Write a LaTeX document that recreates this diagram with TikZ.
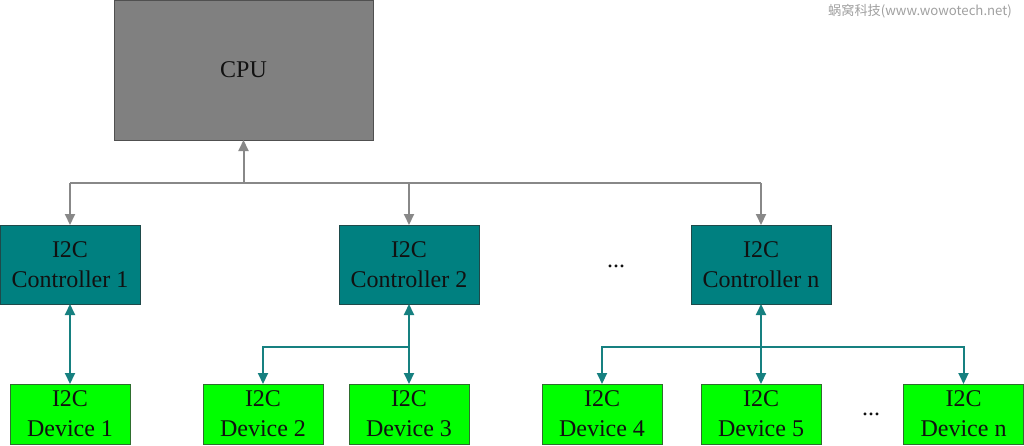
\documentclass[tikz,border=0pt]{standalone}
\usepackage{fontspec}
\setmainfont{Liberation Serif}
\newfontfamily\cjkfont{Noto Sans CJK SC}
\usetikzlibrary{arrows.meta,calc}
\definecolor{cpufill}{HTML}{808080}
\definecolor{cpuedge}{HTML}{505050}
\definecolor{ctlfill}{HTML}{008080}
\definecolor{ctledge}{HTML}{1E4A4A}
\definecolor{devfill}{HTML}{00FF00}
\definecolor{devedge}{HTML}{2E6E2E}
\definecolor{gline}{HTML}{888888}
\definecolor{tline}{HTML}{168080}
\definecolor{txt}{HTML}{111111}
\definecolor{wm}{HTML}{A0A0A0}
\tikzset{
  box/.style={rectangle, inner sep=0pt, outer sep=0pt, align=center, text=txt,
    font=\fontsize{24}{30}\selectfont, line width=1pt},
  cpubox/.style={box, fill=cpufill, draw=cpuedge, minimum width=259pt, minimum height=140pt},
  ctlbox/.style={box, fill=ctlfill, draw=ctledge, minimum width=140pt, minimum height=79pt},
  devbox/.style={box, fill=devfill, draw=devedge, minimum width=120pt, minimum height=60pt},
  grayconn/.style={draw=gline, line width=2pt},
  tealconn/.style={draw=tline, line width=2pt},
  tip/.tip={Triangle[length=11pt,width=10pt]},
  dots/.style={font=\fontsize{24}{30}\selectfont, text=txt, inner sep=0pt}
}
\begin{document}
\begin{tikzpicture}[x=1pt,y=-1pt]
\useasboundingbox (0,0) rectangle (1024,445);
% nodes
\node[cpubox] (cpu) at (243.5,70) {CPU};
\node[ctlbox] (ctl1) at (70,264.5) {I2C\\Controller 1};
\node[ctlbox] (ctl2) at (409,264.5) {I2C\\Controller 2};
\node[ctlbox] (ctln) at (761,264.5) {I2C\\Controller n};
\node[devbox] (dev1) at (70,414) {I2C\\Device 1};
\node[devbox] (dev2) at (263,414) {I2C\\Device 2};
\node[devbox] (dev3) at (409,414) {I2C\\Device 3};
\node[devbox] (dev4) at (602,414) {I2C\\Device 4};
\node[devbox] (dev5) at (761,414) {I2C\\Device 5};
\node[devbox] (devn) at (963.5,414) {I2C\\Device n};
\node[dots] (dotsa) at (616,266) {...};
\node[dots] (dotsb) at (871,414) {...};
\node[font=\cjkfont\fontsize{13.2}{15}\selectfont, text=wm, inner sep=0pt, anchor=east] (wmk) at (1012,11) {蜗窝科技(www.wowotech.net)};
% gray bus
\coordinate (bus) at (243.5,183);
\draw[grayconn,-tip] (bus) -- (cpu.south);
\draw[grayconn] (ctl1.north |- bus) -- (ctln.north |- bus);
\draw[grayconn,-tip] (ctl1.north |- bus) -- (ctl1.north);
\draw[grayconn,-tip] (ctl2.north |- bus) -- (ctl2.north);
\draw[grayconn,-tip] (ctln.north |- bus) -- (ctln.north);
% teal links
\coordinate (tb2) at (409,347);
\coordinate (tbn) at (761,347);
\draw[tealconn,tip-tip] (ctl1.south) -- (dev1.north);
\draw[tealconn,tip-tip] (ctl2.south) -- (dev3.north);
\draw[tealconn,-tip] (tb2) -| (dev2.north);
\draw[tealconn,tip-tip] (ctln.south) -- (dev5.north);
\draw[tealconn,-tip] (tbn) -| (dev4.north);
\draw[tealconn,-tip] (tbn) -| (devn.north);
\end{tikzpicture}
\end{document}
